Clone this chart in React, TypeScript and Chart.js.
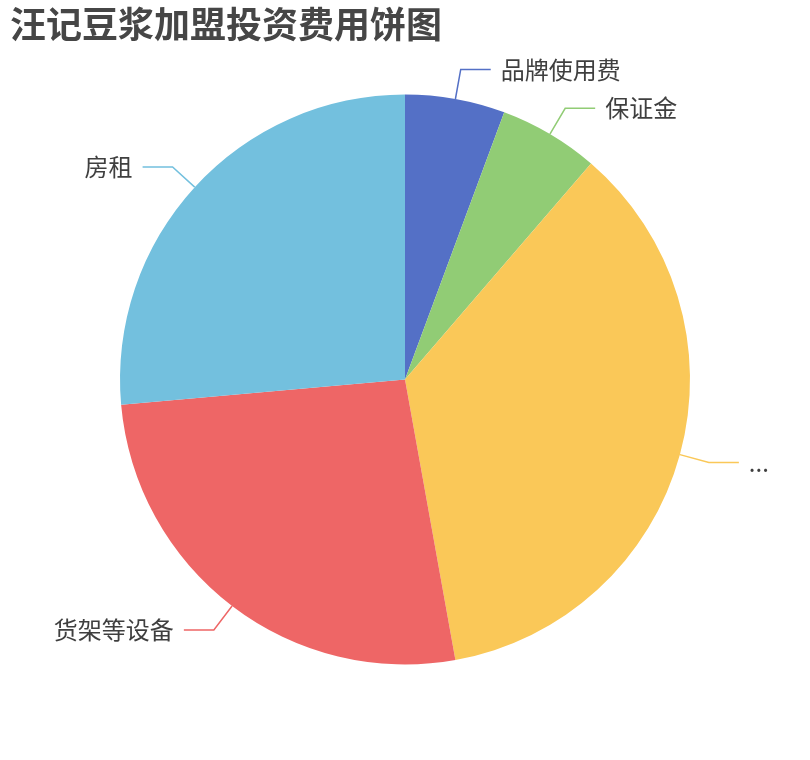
import React, { useEffect, useRef } from "react";
import { Chart, registerables } from "chart.js";

Chart.register(...registerables);

const TITLE = "汪记豆浆加盟投资费用饼图";
const categories = ["品牌使用费", "保证金", "...", "货架等设备", "房租"];
const values = [3, 3, 19, 14, 14];
const colors = ["#5470c6", "#91cc75", "#fac858", "#ee6666", "#73c0de"];

const FONT = '"Noto Sans CJK SC", "Noto Sans", sans-serif';

const labelPlugin = {
  id: "pieLabels",
  afterDatasetsDraw(chart: any) {
    const ctx = chart.ctx;
    const meta = chart.getDatasetMeta(0);
    ctx.save();
    meta.data.forEach((arc: any, i: number) => {
      const p = arc.getProps(["x", "y", "startAngle", "endAngle", "outerRadius"], true);
      const mid = (p.startAngle + p.endAngle) / 2;
      const c = Math.cos(mid);
      const s = Math.sin(mid);
      const r0 = p.outerRadius;
      const r1 = r0 + 30;
      const x0 = p.x + c * r0;
      const y0 = p.y + s * r0;
      const x1 = p.x + c * r1;
      const y1 = p.y + s * r1;
      const dir = c >= 0 ? 1 : -1;
      const x2 = x1 + dir * 30;
      ctx.strokeStyle = colors[i];
      ctx.lineWidth = 1.5;
      ctx.beginPath();
      ctx.moveTo(x0, y0);
      ctx.lineTo(x1, y1);
      ctx.lineTo(x2, y1);
      ctx.stroke();
      ctx.fillStyle = "#3f3f3f";
      ctx.font = `24px ${FONT}`;
      ctx.textAlign = dir > 0 ? "left" : "right";
      ctx.textBaseline = "middle";
      ctx.fillText(String(chart.data.labels[i]), x2 + dir * 10, y1);
    });
    // title
    ctx.fillStyle = "#464646";
    ctx.font = `bold 36px ${FONT}`;
    ctx.textAlign = "left";
    ctx.textBaseline = "middle";
    ctx.fillText(TITLE, 10, 24);
    ctx.restore();
  },
};

export default function App() {
  const ref = useRef<HTMLCanvasElement>(null);
  useEffect(() => {
    if (!ref.current) return;
    const chart = new Chart(ref.current, {
      type: "pie",
      data: {
        labels: categories,
        datasets: [
          {
            data: values,
            backgroundColor: colors,
            borderWidth: 0,
          },
        ],
      },
      options: {
        animation: false,
        responsive: false,
        layout: { padding: { top: 94.5, bottom: 95.5, left: 0, right: 0 } },
        plugins: {
          legend: { display: false },
          tooltip: { enabled: false },
          title: { display: false },
        },
      },
      plugins: [labelPlugin],
    });
    return () => chart.destroy();
  }, []);
  return (
    <div style={{ position: "fixed", left: 0, top: 0, width: 810, height: 760, background: "#fff" }}>
      <canvas ref={ref} width={810} height={760} style={{ width: 810, height: 760 }} />
    </div>
  );
}
